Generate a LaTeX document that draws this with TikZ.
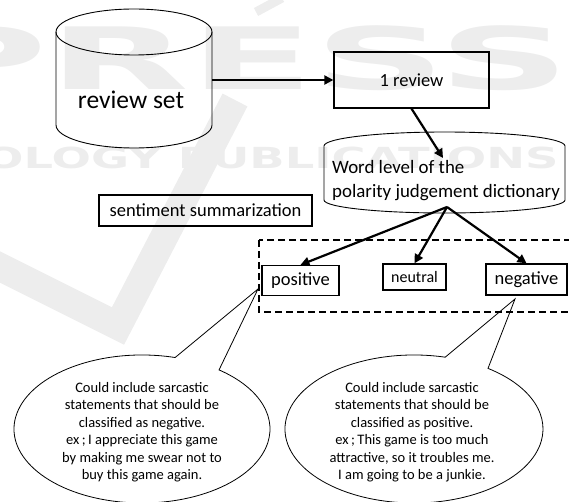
\documentclass[tikz,border=0pt]{standalone}
\usepackage{fontspec}
\setmainfont{Carlito}
\newfontfamily\wmfont{DejaVu Sans}
\usetikzlibrary{arrows.meta}
\begin{document}
\begin{tikzpicture}[x=1pt,y=-1pt,
  box/.style={draw, line width=1.3pt, inner sep=0pt, font=\fontsize{18.5}{22}\selectfont},
  arr/.style={line width=2.2pt, -{Triangle[length=9pt,width=9pt]}},
  cyl/.style={line width=0.9pt},
  callout/.style={line width=0.8pt},
  dashbox/.style={line width=2pt, dash pattern=on 7pt off 4pt},
  wm/.style={text=black!7, inner sep=0pt},
  ctext/.style={align=center, inner sep=0pt, font=\fontsize{14.5}{17.5}\selectfont}]
\useasboundingbox (0,0) rectangle (569,502);
% faint watermark
\node[wm, font=\wmfont\bfseries\fontsize{86}{86}\selectfont, xscale=2.13] (wm1) at (242,58) {PRESS};
\node[wm, font=\wmfont\bfseries\fontsize{29}{29}\selectfont, xscale=1.6, anchor=east] (wm2) at (559,157.5) {OLOGY PUBLICATIONS};
\draw[black!7, line width=28pt, line join=miter] (-10,262) -- (118,326) -- (235,100);
\draw[black!7, line width=9pt] (256,12) -- (282,-2);
% review set cylinder
\draw[cyl] (56,32) -- (56,125) arc[start angle=180,end angle=360,x radius=78pt,y radius=23pt] -- (212,32);
\draw[cyl] (134,32) ellipse[x radius=78pt, y radius=23pt];
\node[inner sep=0pt, font=\fontsize{25.5}{30}\selectfont] (rs) at (131,100) {review set};
\coordinate (rsE) at (212,80);
% 1 review
\node[box, minimum width=155pt, minimum height=56pt] (rev) at (411.5,80) {1 review};
\draw[arr] (rsE) -- (rev.west);
% dictionary cylinder
\draw[cyl] (324,200) -- (324,146) arc[start angle=180,end angle=0,x radius=120.5pt,y radius=14pt] -- (565,200) arc[start angle=0,end angle=-180,x radius=120.5pt,y radius=13pt];
\node[align=left, anchor=west, inner sep=0pt, font=\fontsize{18.9}{24}\selectfont] (dict) at (332,181) {Word level of the\\polarity judgement dictionary};
\coordinate (dictIn) at (443,158);
\draw[arr] (rev.south) -- (dictIn);
% sentiment summarization
\node[box, minimum width=213pt, minimum height=31pt] (sum) at (205.5,210.5) {sentiment summarization};
% dashed group
\draw[dashbox] (259,240) rectangle (585,312);
\node[box, minimum width=77pt, minimum height=30pt] (pos) at (300.5,280.5) {positive};
\node[box, minimum width=63pt, minimum height=26pt, font=\fontsize{16}{19}\selectfont] (neu) at (414.5,277) {neutral};
\node[box, minimum width=81pt, minimum height=31pt] (neg) at (526.5,279.5) {negative};
\coordinate (apex) at (447,207);
\draw[arr] (apex) -- (pos.north);
\draw[arr] (apex) -- (neu.north);
\draw[arr] (apex) -- (neg.north);
% callouts
\coordinate (tipL) at (258,289);
\coordinate (tipR) at (515,299);
\coordinate (cL) at (142,429);
\coordinate (cR) at (414,429);
\draw[callout] (cL) ++(75:128pt and 74pt) arc[start angle=75,end angle=413,x radius=128pt,y radius=74pt] -- (tipL) -- cycle;
\draw[callout] (cR) ++(76:129pt and 74pt) arc[start angle=76,end angle=415,x radius=129pt,y radius=74pt] -- (tipR) -- cycle;
\node[ctext] (tL) at (142,432) {Could include sarcastic\\statements that should be\\classified as negative.\\ex\,;\,I appreciate this game\\by making me swear not to\\buy this game again.};
\node[ctext] (tR) at (412,432) {Could include sarcastic\\statements that should be\\classified as positive.\\ex\,;\,This game is too much\\attractive, so it troubles me.\\I am going to be a junkie.};
\end{tikzpicture}
\end{document}
